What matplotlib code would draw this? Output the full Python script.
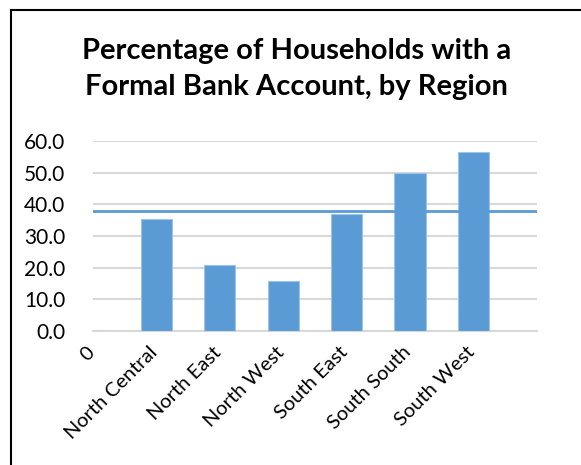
import matplotlib.pyplot as plt
import matplotlib.transforms as mtransforms
from matplotlib.lines import Line2D

categories = ["0", "North Central", "North East", "North West",
              "South East", "South South", "South West"]
values = [0.0, 35.4, 20.7, 15.7, 37.0, 50.0, 56.4]
national_avg = 37.9
yticks = [0, 10, 20, 30, 40, 50, 60]

plt.rcParams['font.family'] = ['Lato', 'DejaVu Sans']

fig = plt.figure(figsize=(5.81, 4.65), dpi=100)
ax = fig.add_axes([0.160, 0.288, 0.764, 0.409])

x = list(range(len(categories)))
ax.bar(x, values, width=0.49, color='#5b9bd5', edgecolor='#9dc3e6',
       linewidth=0.8, zorder=3)
ax.axhline(national_avg, color='#5b9bd5', linewidth=2, zorder=4)

# first category sits on the left edge, one empty slot at the right
ax.set_xlim(0, len(categories))
ax.set_ylim(0, 60)
ax.set_yticks(yticks)
ax.set_yticklabels([f"{t:.1f}" for t in yticks], fontsize=15)
ax.set_xticks(x)
ax.set_xticklabels(categories, rotation=45, ha='right',
                   rotation_mode='anchor', fontsize=14.5)
ax.tick_params(length=0)
ax.tick_params(axis='x', pad=9)
ax.tick_params(axis='y', pad=20)
shift = mtransforms.ScaledTranslation(-5.5/72, 0, fig.dpi_scale_trans)
for lbl in ax.get_xticklabels():
    lbl.set_transform(lbl.get_transform() + shift)

ax.grid(axis='y', color='#d9d9d9', linewidth=1.5, zorder=0)
for s in ['top', 'right', 'left']:
    ax.spines[s].set_visible(False)
ax.spines['bottom'].set_color('#d9d9d9')
ax.spines['bottom'].set_linewidth(1.5)

fig.text(0.511, 0.852, "Percentage of Households with a\nFormal Bank Account, by Region",
         ha='center', va='center', fontsize=21, fontweight='bold',
         linespacing=1.45)

# outer border (left and top edges)
fig.add_artist(Line2D([11/581, 11/581], [0, 1 - 10/465], color='black',
                      linewidth=1.5, transform=fig.transFigure))
fig.add_artist(Line2D([11/581, 1], [1 - 10/465, 1 - 10/465], color='black',
                      linewidth=1.5, transform=fig.transFigure))

fig.savefig("out.png", dpi=100)
